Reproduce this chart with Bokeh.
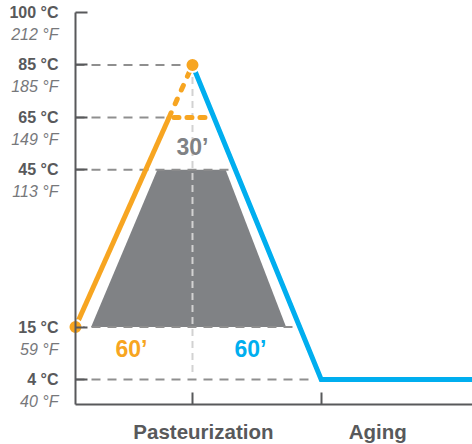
import numpy as np
from bokeh.plotting import figure
from bokeh.models import FixedTicker, Range1d, LinearAxis
from bokeh.core.properties import value
from bokeh.embed import file_html
from bokeh.resources import INLINE

# ---- data ----
tick_temps = [4, 15, 45, 65, 85, 100]
tick_c = ["4 °C", "15 °C", "45 °C", "65 °C", "85 °C", "100 °C"]
tick_f = ["40 °F", "59 °F", "113 °F", "149 °F", "185 °F", "212 °F"]
tick_level = [0, 1, 4, 5, 6, 7]          # axis is not linear in temperature

heat_x = [0, 60]          # minutes
heat_t = [15, 85]
hold_t = 65
cool_x = [60, 126, 204]
cool_t = [85, 4, 4]
trap_x = [8, 108, 77, 42]
trap_t = [15, 15, 45, 45]
ref_t = [85, 65, 45, 15, 4]
ref_end = [60, 48, 83, 114, 121]
phase_names = ["Pasteurization", "Aging"]
phase_centers = [65.6, 155]
phase_ticks = [60, 126]
heat_label = "60’"
cool_label = "60’"
hold_label = "30’"

ORANGE = "#f7a521"
BLUE = "#00aeef"
GREY = "#808285"
DARK = "#58595b"
FONT = "Liberation Sans"

X_END = 203.6
Y_BASE = -0.48


def ypos(t):
    return np.interp(t, tick_temps, tick_level)


p = figure(width=472, height=444, output_backend="svg", toolbar_location=None,
           x_range=Range1d(-38.46, X_END), y_range=Range1d(-1.24, 7.23),
           min_border_left=0, min_border_right=0, min_border_top=0,
           min_border_bottom=0, x_axis_type=None, y_axis_type=None)
p.outline_line_color = None
p.background_fill_color = "white"

yax = LinearAxis(fixed_location=0, bounds=(Y_BASE, tick_level[-1]),
                 ticker=FixedTicker(ticks=tick_level))
xax = LinearAxis(fixed_location=Y_BASE, bounds=(0, X_END),
                 ticker=FixedTicker(ticks=phase_ticks))
for ax in (xax, yax):
    ax.axis_line_color = DARK
    ax.axis_line_width = 2
    ax.major_tick_line_color = DARK
    ax.major_tick_line_width = 2
    ax.major_tick_in = 12
    ax.major_tick_out = 0
    ax.minor_tick_line_color = None
    ax.major_label_text_font_size = "0px"
    ax.major_label_text_alpha = 0
p.add_layout(yax, "left")
p.add_layout(xax, "below")

# grey holding area
p.patch(trap_x, list(ypos(trap_t)), fill_color=GREY, line_color=None)

# reference dashed lines
p.multi_line([[0, e] for e in ref_end], [[ypos(t), ypos(t)] for t in ref_t],
             line_color="#8f8f8f", line_width=2, line_dash="9 7")
# vertical dashed line at peak
p.line([heat_x[1], heat_x[1]], list(ypos([cool_t[0], 5.5])), line_color="#d2d2d2",
       line_width=2, line_dash="7 5")

# heating line: solid to holding temp, then dashed
y0, y1 = ypos(heat_t[0]), ypos(heat_t[1])
yh = ypos(hold_t)
frac = (yh - y0) / (y1 - y0)
xh = heat_x[0] + frac * (heat_x[1] - heat_x[0])
p.line([heat_x[0], xh], [y0, yh], line_color=ORANGE, line_width=5)
p.line([xh, heat_x[1]], [yh, y1], line_color=ORANGE, line_width=5,
       line_dash="5 10", line_cap="round")

# cooling line
cy = list(ypos(cool_t))
p.line(cool_x, cy, line_color=BLUE, line_width=5, line_join="miter")

# holding dashed line at 65 °C
fc = (cy[0] - yh) / (cy[0] - cy[1])
xb = cool_x[0] + fc * (cool_x[1] - cool_x[0])
p.line([xh + 2.5, xb - 0.8], [yh, yh], line_color=ORANGE, line_width=5,
       line_dash="5 8", line_cap="round")

# dots
p.scatter(heat_x, list(ypos(heat_t)), size=14, fill_color=ORANGE,
          line_color="white", line_width=2)

# in-plot labels
p.text([heat_x[1]], [ypos(53.6)], text=[hold_label], text_color=GREY,
       text_font=value(FONT), text_font_style="bold", text_font_size="23px",
       text_align="center", text_baseline="middle")
p.text([28.7, 89.7], [ypos(10.3), ypos(10.3)], text=[heat_label, cool_label],
       text_color=[ORANGE, BLUE], text_font=value(FONT), text_font_style="bold",
       text_font_size="23px", text_align="center", text_baseline="middle")

# y-axis labels (two styles)
p.text([0] * len(tick_level), tick_level, text=tick_c, x_offset=-17,
       text_align="right", text_baseline="middle", text_font=value(FONT),
       text_font_style="bold", text_font_size="16px", text_color=DARK)
p.text([0] * len(tick_level), tick_level, text=tick_f, x_offset=-17, y_offset=22,
       text_align="right", text_baseline="middle", text_font=value(FONT),
       text_font_style="italic", text_font_size="16px", text_color="#77787b")

# x-axis phase labels
p.text(phase_centers, [Y_BASE] * 2, text=phase_names, y_offset=27,
       text_align="center", text_baseline="middle", text_font=value(FONT),
       text_font_style="bold", text_font_size="20.5px", text_color=DARK)

open("out.html", "w").write(file_html(p, INLINE))
